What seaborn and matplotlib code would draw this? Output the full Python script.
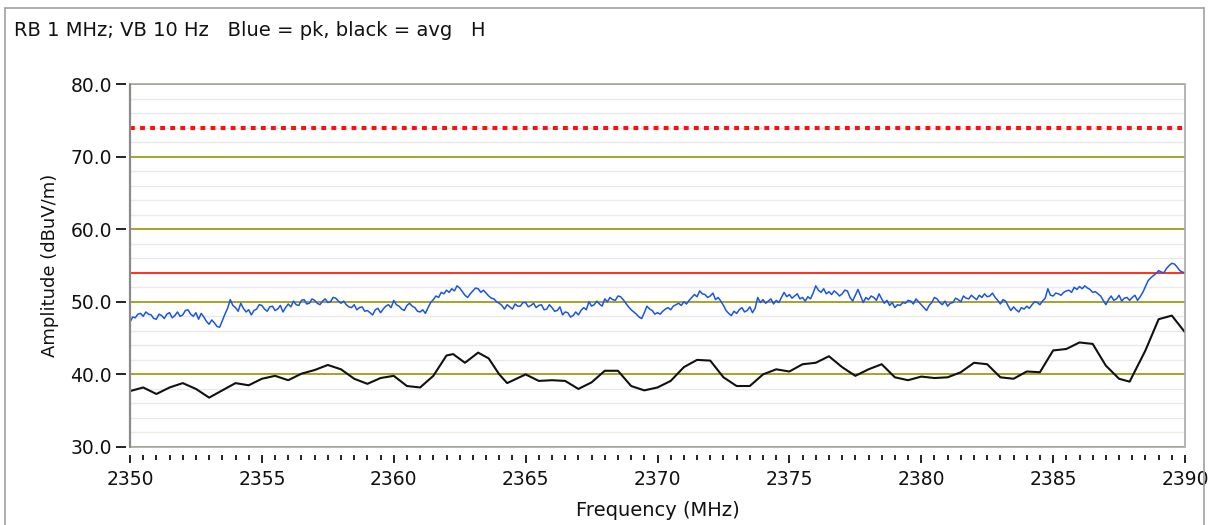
import numpy as np
import pandas as pd
import matplotlib
matplotlib.use("Agg")
import matplotlib.pyplot as plt
import seaborn as sns
from matplotlib.patches import Rectangle
from matplotlib.lines import Line2D
from matplotlib.ticker import MultipleLocator, FormatStrFormatter, FixedLocator

# ---------------- data ----------------
title_text = "RB 1 MHz; VB 10 Hz   Blue = pk, black = avg   H"
x_label = "Frequency (MHz)"
y_label = "Amplitude (dBuV/m)"

# peak trace, sampled every 0.1 MHz from 2350 to 2390 MHz
peak_start = 2350.0
peak_step = 0.1
peak_level = [
    47.2, 47.9, 47.8, 48.3, 48.4, 48.0, 48.6, 48.3, 48.2, 47.7,   # 2350
    47.6, 48.3, 48.1, 47.7, 48.3, 48.5, 47.8, 48.1, 48.6, 48.0,   # 2351
    48.2, 48.8, 48.9, 48.3, 48.0, 48.5, 47.6, 48.4, 47.9, 47.3,   # 2352
    46.9, 47.5, 47.1, 46.6, 46.5, 47.4, 48.3, 49.1, 50.3, 49.5,   # 2353
    49.2, 48.7, 49.8, 49.1, 48.6, 48.9, 48.2, 48.8, 49.0, 49.6,   # 2354
    49.5, 49.0, 48.7, 49.3, 49.4, 48.8, 49.0, 49.5, 48.6, 49.2,   # 2355
    49.7, 49.3, 50.1, 49.6, 49.5, 50.2, 50.3, 49.7, 49.8, 50.4,   # 2356
    50.2, 49.8, 49.6, 50.1, 50.4, 49.9, 50.0, 50.6, 50.5, 50.1,   # 2357
    49.8, 50.1, 49.6, 49.3, 49.2, 49.6, 48.9, 49.2, 49.3, 48.7,   # 2358
    48.8, 48.5, 48.2, 48.9, 49.1, 48.5, 49.0, 49.4, 49.6, 49.2,   # 2359
    50.2, 49.6, 49.4, 49.0, 48.8, 49.5, 49.8, 49.4, 49.2, 48.7,   # 2360
    48.6, 48.9, 48.4, 49.2, 49.9, 50.3, 50.8, 50.6, 51.3, 51.1,   # 2361
    51.6, 51.3, 51.8, 51.5, 52.2, 51.9, 51.4, 50.9, 50.6, 51.1,   # 2362
    51.5, 51.9, 51.8, 51.3, 51.6, 51.2, 50.8, 50.5, 50.4, 50.0,   # 2363
    49.8, 49.5, 49.0, 49.6, 49.3, 49.0, 49.7, 49.4, 49.4, 49.9,   # 2364
    49.9, 49.3, 49.5, 49.8, 49.2, 49.5, 49.6, 48.9, 49.0, 49.6,   # 2365
    49.2, 48.7, 48.8, 49.3, 48.2, 48.6, 48.5, 47.9, 48.1, 48.6,   # 2366
    48.2, 48.8, 49.2, 48.9, 50.0, 49.4, 49.6, 50.1, 49.7, 49.4,   # 2367
    50.4, 50.0, 50.6, 50.3, 50.2, 50.8, 50.7, 50.3, 49.8, 49.3,   # 2368
    48.9, 48.6, 48.3, 47.9, 47.7, 48.5, 49.4, 49.0, 48.8, 48.3,   # 2369
    48.5, 48.3, 48.7, 49.0, 49.2, 48.9, 49.4, 49.6, 49.8, 49.5,   # 2370
    50.0, 49.7, 50.2, 50.6, 51.0, 50.7, 51.5, 51.1, 51.0, 50.6,   # 2371
    50.8, 51.2, 50.3, 50.6, 50.1, 49.5, 48.8, 48.4, 48.1, 48.7,   # 2372
    48.4, 48.9, 49.2, 48.6, 48.8, 49.3, 48.5, 49.1, 50.6, 49.9,   # 2373
    50.3, 49.8, 50.1, 50.4, 49.7, 50.2, 49.9, 50.6, 51.3, 50.7,   # 2374
    51.0, 50.5, 50.8, 51.1, 50.4, 50.6, 50.1, 50.7, 50.4, 51.2,   # 2375
    52.2, 51.6, 51.3, 51.8, 51.1, 51.4, 51.0, 51.5, 51.2, 50.8,   # 2376
    51.1, 51.6, 51.5, 50.6, 50.1, 50.9, 51.7, 50.8, 49.9, 50.6,   # 2377
    50.3, 50.8, 50.6, 50.2, 51.1, 50.4, 49.8, 50.2, 49.5, 49.9,   # 2378
    49.2, 49.6, 49.5, 49.9, 49.8, 50.2, 50.1, 49.7, 50.4, 50.0,   # 2379
    49.6, 49.2, 48.8, 49.5, 49.9, 50.6, 50.4, 49.9, 49.6, 50.1,   # 2380
    49.4, 49.8, 49.9, 50.5, 50.3, 50.0, 50.8, 50.5, 50.4, 50.9,   # 2381
    50.6, 50.3, 50.9, 50.6, 51.1, 50.7, 50.8, 51.2, 50.6, 50.2,   # 2382
    49.7, 50.3, 50.1, 49.4, 48.8, 49.3, 48.9, 48.6, 49.2, 49.0,   # 2383
    49.4, 49.1, 49.6, 50.0, 49.9, 49.6, 50.1, 50.5, 51.8, 50.9,   # 2384
    50.8, 51.2, 51.1, 50.9, 51.3, 51.5, 51.6, 51.3, 52.0, 51.7,   # 2385
    52.1, 51.8, 52.2, 51.9, 51.7, 51.3, 51.4, 51.1, 50.8, 50.2,   # 2386
    49.6, 50.3, 50.8, 50.2, 50.4, 50.9, 50.1, 50.5, 50.6, 50.2,   # 2387
    50.6, 50.9, 50.2, 50.7, 51.3, 52.1, 52.9, 53.3, 53.6, 53.9,   # 2388
    54.3, 54.1, 54.0, 54.6, 55.0, 55.3, 55.2, 54.8, 54.3, 54.1,   # 2389
    54.0,                                                         # 2390
]

# average trace
avg_freq = [
    2350.0, 2350.5, 2351.0, 2351.5, 2352.0, 2352.5, 2353.0, 2353.5,
    2354.0, 2354.5, 2355.0, 2355.5, 2356.0, 2356.5, 2357.0, 2357.5,
    2358.0, 2358.5, 2359.0, 2359.5, 2360.0, 2360.5, 2361.0, 2361.5,
    2362.0, 2362.25, 2362.7, 2363.2, 2363.6, 2364.0, 2364.3, 2365.0,
    2365.5, 2366.0, 2366.5, 2367.0, 2367.5, 2368.0, 2368.5, 2369.0,
    2369.5, 2370.0, 2370.5, 2371.0, 2371.5, 2372.0, 2372.5, 2373.0,
    2373.5, 2374.0, 2374.5, 2375.0, 2375.5, 2376.0, 2376.5, 2377.0,
    2377.5, 2378.0, 2378.5, 2379.0, 2379.5, 2380.0, 2380.5, 2381.0,
    2381.5, 2382.0, 2382.5, 2383.0, 2383.5, 2384.0, 2384.5, 2385.0,
    2385.5, 2386.0, 2386.5, 2387.0, 2387.5, 2387.9, 2388.5, 2389.0,
    2389.5, 2390.0,
]
avg_level = [
    37.7, 38.2, 37.3, 38.2, 38.8, 38.0, 36.8, 37.8,
    38.8, 38.5, 39.4, 39.8, 39.2, 40.1, 40.6, 41.3,
    40.7, 39.4, 38.7, 39.5, 39.8, 38.4, 38.2, 39.8,
    42.6, 42.8, 41.6, 43.0, 42.2, 40.0, 38.8, 40.0,
    39.1, 39.2, 39.1, 38.0, 38.9, 40.5, 40.5, 38.4,
    37.8, 38.2, 39.1, 41.0, 42.0, 41.9, 39.6, 38.4,
    38.4, 40.0, 40.7, 40.4, 41.4, 41.6, 42.5, 41.0,
    39.8, 40.7, 41.4, 39.6, 39.2, 39.7, 39.5, 39.6,
    40.3, 41.6, 41.4, 39.6, 39.4, 40.4, 40.3, 43.3,
    43.5, 44.4, 44.2, 41.2, 39.4, 39.0, 43.3, 47.6,
    48.1, 45.8,
]

limit_peak = 74.0
limit_avg = 54.0
y_ticks = [30, 40, 50, 60, 70, 80]
x_ticks = [2350, 2355, 2360, 2365, 2370, 2375, 2380, 2385, 2390]

# ---------------- frames ----------------
peak_freq = peak_start + peak_step * np.arange(len(peak_level))
peak_df = pd.DataFrame({"freq": peak_freq, "level": peak_level})
avg_df = pd.DataFrame({"freq": avg_freq, "level": avg_level})

sns.set_style("white")
plt.rcParams["font.family"] = ["DejaVu Sans"]

W, H = 1209, 525
fig = plt.figure(figsize=(W / 100, H / 100), dpi=100)
ax = fig.add_axes([130 / W, 1 - 447 / H, (1185 - 130) / W, (447 - 84) / H])

# grid
ax.yaxis.set_minor_locator(MultipleLocator(2))
ax.grid(which="minor", axis="y", color="#e9e9e9", lw=1.0, zorder=0)
ax.grid(which="major", axis="y", color="#a4a42a", lw=1.4, zorder=1)
ax.grid(which="both", axis="x", visible=False)

# limit lines
ax.axhline(limit_peak, color="#ff1010", lw=2.9, ls=(0, (1.2, 1.3)), zorder=3)
ax.axhline(limit_avg, color="#ff3020", lw=1.4, zorder=3)

sns.lineplot(data=avg_df, x="freq", y="level", ax=ax, color="#111111",
             lw=1.5, zorder=4, estimator=None)
sns.lineplot(data=peak_df, x="freq", y="level", ax=ax, color="#1a55e6",
             lw=1.1, zorder=5, estimator=None)

ax.set_xlim(2350, 2390)
ax.set_ylim(30, 80)
ax.xaxis.set_major_locator(FixedLocator(x_ticks))
ax.xaxis.set_minor_locator(MultipleLocator(0.5))
ax.yaxis.set_major_locator(FixedLocator(y_ticks))
ax.yaxis.set_major_formatter(FormatStrFormatter("%.1f"))

# spines offset to mimic tick gap, then draw own frame
for s in ax.spines.values():
    s.set_visible(False)
ax.spines["bottom"].set_position(("outward", 6))
ax.spines["left"].set_position(("outward", 3))
ax.add_patch(Rectangle((0, 0), 1, 1, transform=ax.transAxes, fill=False,
                       edgecolor="#a8a8a8", lw=1.2, clip_on=False, zorder=6))
ax.add_line(Line2D([0, 0], [0, 1], transform=ax.transAxes, color="#8a8a8a",
                   lw=1.6, clip_on=False, zorder=7))

ax.tick_params(axis="x", which="major", direction="out", length=5.5, width=1.4,
               color="#222222", bottom=True, pad=5, labelsize=13.5,
               labelcolor="#111111")
ax.tick_params(axis="x", which="minor", direction="out", length=3.6, width=1.4,
               color="#222222", bottom=True)
ax.tick_params(axis="y", which="major", direction="out", length=7, width=1.4,
               color="#222222", left=True, pad=3, labelsize=13.5,
               labelcolor="#111111")
ax.tick_params(axis="y", which="minor", length=0, left=False)

ax.set_xlabel(x_label, fontsize=14, color="#111111", labelpad=9)
ax.set_ylabel(y_label, fontsize=13, color="#111111", labelpad=8)

fig.text(14 / W, 1 - 31 / H, title_text, fontsize=14, color="#111111",
         ha="left", va="center")

# outer panel border
fig.add_artist(Line2D([5 / W, 5 / W], [0, 1 - 8 / H], transform=fig.transFigure,
                      color="#a0a0a0", lw=1.2))
fig.add_artist(Line2D([5 / W, 1204 / W], [1 - 8 / H, 1 - 8 / H],
                      transform=fig.transFigure, color="#a0a0a0", lw=1.2))
fig.add_artist(Line2D([1204 / W, 1204 / W], [0, 1 - 8 / H],
                      transform=fig.transFigure, color="#a0a0a0", lw=1.2))

fig.savefig("out.png", dpi=100)
